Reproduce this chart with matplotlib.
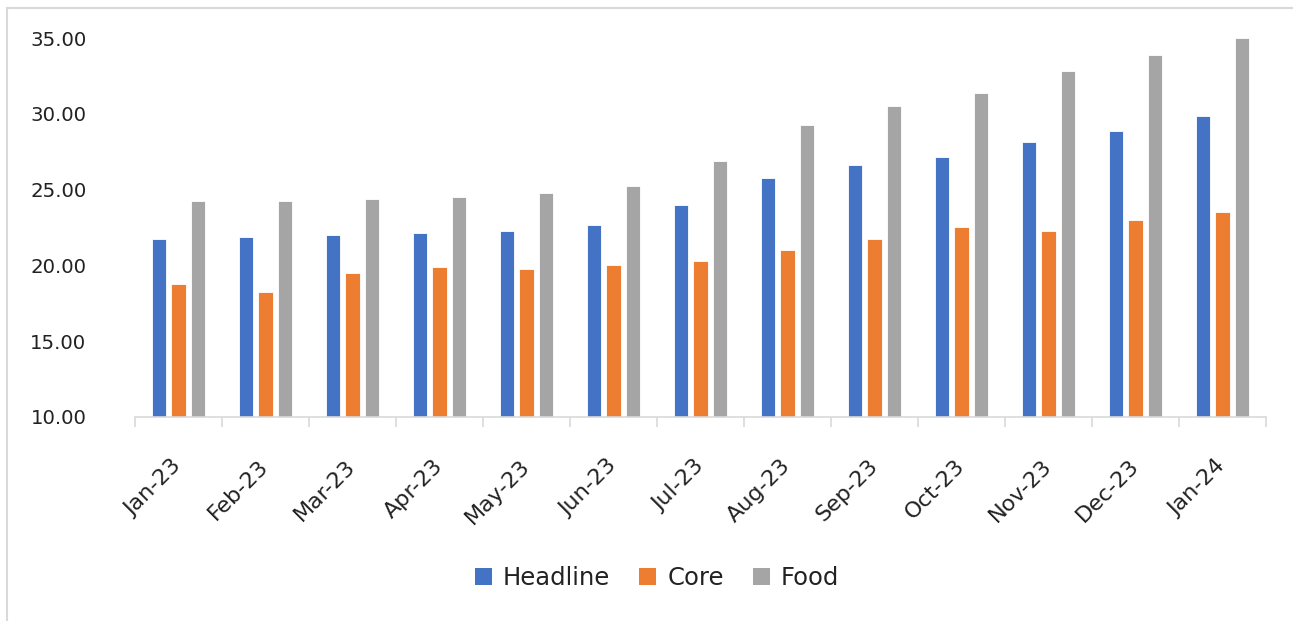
'''
Grouped bar chart of headline, core and food inflation by month
'''
import numpy as np
import matplotlib.pyplot as plt
from matplotlib.lines import Line2D
from matplotlib.patches import Patch

months = ['Jan-23', 'Feb-23', 'Mar-23', 'Apr-23', 'May-23', 'Jun-23', 'Jul-23',
          'Aug-23', 'Sep-23', 'Oct-23', 'Nov-23', 'Dec-23', 'Jan-24']
headline = [21.74, 21.87, 22.00, 22.14, 22.29, 22.69, 23.97,
            25.77, 26.63, 27.18, 28.15, 28.86, 29.85]
core = [18.79, 18.24, 19.50, 19.91, 19.76, 20.05, 20.31,
        21.04, 21.74, 22.56, 22.29, 23.00, 23.55]
food = [24.25, 24.25, 24.39, 24.52, 24.80, 25.22, 26.90,
        29.28, 30.53, 31.37, 32.80, 33.90, 35.00]

series = ['Headline', 'Core', 'Food']
colors = ['#4472c4', '#ed7d31', '#a5a5a5']

plt.rcParams['font.family'] = ['DejaVu Sans']

W, H = 1293, 621
fig = plt.figure(figsize=(W / 100, H / 100), dpi=100)
ax = fig.add_axes([135 / W, 1 - 417 / H, (1266 - 135) / W, (417 - 38) / H])

x = np.arange(len(months))
step = 0.224
width = 0.172
for i, (vals, col) in enumerate(zip([headline, core, food], colors)):
    ax.bar(x + (i - 1) * step, vals, width=width, bottom=0, color=col,
           edgecolor='white', linewidth=0.6, zorder=2)

ax.set_xlim(-0.5, len(months) - 0.5)
ax.set_ylim(10, 35)
ax.set_yticks([10, 15, 20, 25, 30, 35])
ax.set_yticklabels([f'{v:.2f}' for v in [10, 15, 20, 25, 30, 35]])

ax.set_xticks(x)
ax.set_xticklabels(months, rotation=45, ha='right', rotation_mode='anchor', va='center')
ax.set_xticks(np.arange(len(months) + 1) - 0.5, minor=True)
ax.tick_params(axis='x', which='major', length=0, pad=33, labelsize=16, colors='#222222')
ax.tick_params(axis='x', which='minor', length=7, color='#d9d9d9', width=1.2)
ax.tick_params(axis='y', length=0, pad=35, labelsize=14.2, colors='#222222')

for s in ['top', 'right', 'left']:
    ax.spines[s].set_visible(False)
ax.spines['bottom'].set_color('#d9d9d9')
ax.spines['bottom'].set_linewidth(1.2)

handles = [Patch(facecolor=c, edgecolor='none') for c in colors]
fig.legend(handles, series, loc='center', bbox_to_anchor=(657 / W, 1 - 578 / H),
           ncol=3, frameon=False, fontsize=17.5, handlelength=0.7, handleheight=0.7,
           handletextpad=0.45, columnspacing=1.2, labelcolor='#222222')

# light frame on the left and top edges
fig.add_artist(Line2D([7 / W, 7 / W], [0, 1 - 8 / H], color='#d9d9d9', lw=1.5,
                      transform=fig.transFigure))
fig.add_artist(Line2D([7 / W, 1], [1 - 8 / H, 1 - 8 / H], color='#d9d9d9', lw=1.5,
                      transform=fig.transFigure))

fig.savefig('out.png', dpi=100)
